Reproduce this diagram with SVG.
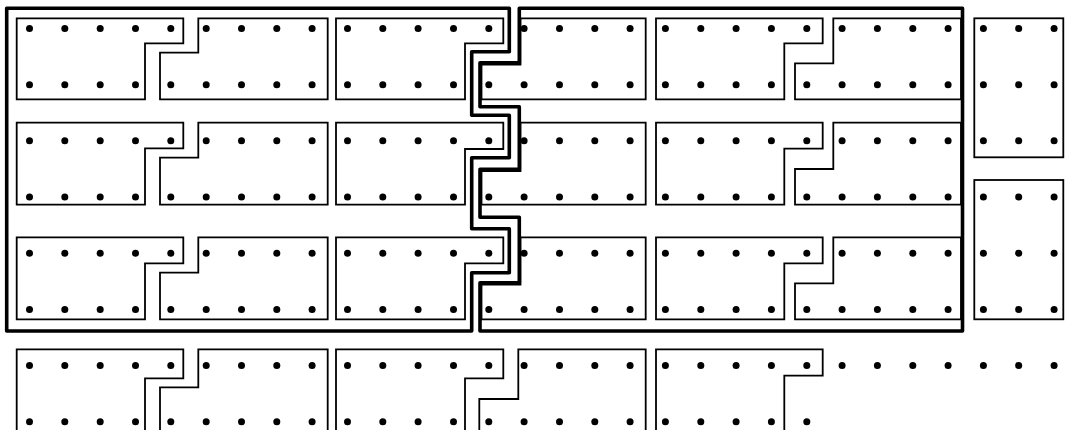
<svg xmlns="http://www.w3.org/2000/svg" xmlns:xlink="http://www.w3.org/1999/xlink" width="1065" height="430" viewBox="0 0 1065 430">
<style>
.box{fill:none;stroke:#000;stroke-width:1.8;stroke-linejoin:miter}
.frame{fill:none;stroke:#000;stroke-width:3.6;stroke-linejoin:round}
.dot{fill:#000}
</style>
<defs>
<g id="row23">
<circle class="dot" cx="29.5" cy="0" r="3.5"/><circle class="dot" cx="64.8" cy="0" r="3.5"/><circle class="dot" cx="100.2" cy="0" r="3.5"/><circle class="dot" cx="135.5" cy="0" r="3.5"/><circle class="dot" cx="170.8" cy="0" r="3.5"/><circle class="dot" cx="206.2" cy="0" r="3.5"/><circle class="dot" cx="241.5" cy="0" r="3.5"/><circle class="dot" cx="276.8" cy="0" r="3.5"/><circle class="dot" cx="312.1" cy="0" r="3.5"/><circle class="dot" cx="347.5" cy="0" r="3.5"/><circle class="dot" cx="382.8" cy="0" r="3.5"/><circle class="dot" cx="418.1" cy="0" r="3.5"/><circle class="dot" cx="453.5" cy="0" r="3.5"/><circle class="dot" cx="488.8" cy="0" r="3.5"/><circle class="dot" cx="524.1" cy="0" r="3.5"/><circle class="dot" cx="559.5" cy="0" r="3.5"/><circle class="dot" cx="594.8" cy="0" r="3.5"/><circle class="dot" cx="630.1" cy="0" r="3.5"/><circle class="dot" cx="665.4" cy="0" r="3.5"/><circle class="dot" cx="700.8" cy="0" r="3.5"/><circle class="dot" cx="736.1" cy="0" r="3.5"/><circle class="dot" cx="771.4" cy="0" r="3.5"/><circle class="dot" cx="806.8" cy="0" r="3.5"/>
</g>
<g id="row30">
<use xlink:href="#row23" href="#row23"/>
<circle class="dot" cx="842.1" cy="0" r="3.5"/><circle class="dot" cx="877.4" cy="0" r="3.5"/><circle class="dot" cx="912.8" cy="0" r="3.5"/><circle class="dot" cx="948.1" cy="0" r="3.5"/><circle class="dot" cx="983.4" cy="0" r="3.5"/><circle class="dot" cx="1018.7" cy="0" r="3.5"/><circle class="dot" cx="1054.1" cy="0" r="3.5"/>
</g>
</defs>
<rect width="1065" height="430" fill="#fff"/>
<g id="connectors">
<path class="frame" d="M6.7 8.3 H509.3 V51.7 H471.7 V115.3 H509.3 V157.7 H471.7 V228.7 H509.3 V272.7 H471.7 V331 H6.7 Z"/>
<path class="frame" d="M519.3 8.3 H962.5 V331 H480 V282.7 H519.3 V217.3 H480 V169.3 H519.3 V106.7 H480 V62.7 H519.3 Z"/>
</g>
<g id="band1">
<g id="b1-1"><path class="box" d="M16.7 18.3 H183.3 V43.3 H145 V99.3 H16.7 Z"/></g>
<g id="b1-2"><path class="box" d="M160 99.3 V52.7 H198.3 V18.3 H327.7 V99.3 Z"/></g>
<g id="b1-3"><path class="box" d="M336 18.3 H503.3 V43.3 H465 V99.3 H336 Z"/></g>
<g id="b1-4"><path class="box" d="M481.5 99.3 V64.5 H520.5 V18.3 H645.7 V99.3 Z"/></g>
<g id="b1-5"><path class="box" d="M656 18.3 H822.7 V43.3 H784.3 V99.3 H656 Z"/></g>
<g id="b1-6"><path class="box" d="M795 99.3 V63.3 H833.3 V18.3 H961 V99.3 Z"/></g>
</g>
<g id="band2">
<g id="b2-1"><path class="box" d="M16.7 122.7 H183.3 V148.3 H145 V204.7 H16.7 Z"/></g>
<g id="b2-2"><path class="box" d="M160 204.7 V157.7 H198.3 V122.7 H327.7 V204.7 Z"/></g>
<g id="b2-3"><path class="box" d="M336 122.7 H503.3 V149 H465 V204.7 H336 Z"/></g>
<g id="b2-4"><path class="box" d="M481.5 204.7 V171 H520.5 V122.7 H645.7 V204.7 Z"/></g>
<g id="b2-5"><path class="box" d="M656 122.7 H822.7 V148.7 H784.3 V204.7 H656 Z"/></g>
<g id="b2-6"><path class="box" d="M795 204.7 V169 H833.3 V122.7 H961 V204.7 Z"/></g>
</g>
<g id="band3">
<g id="b3-1"><path class="box" d="M16.7 237.3 H183.3 V263.3 H145 V319.3 H16.7 Z"/></g>
<g id="b3-2"><path class="box" d="M160 319.3 V272.7 H198.3 V237.3 H327.7 V319.3 Z"/></g>
<g id="b3-3"><path class="box" d="M336 237.3 H503.3 V263.3 H465 V319.3 H336 Z"/></g>
<g id="b3-4"><path class="box" d="M481.5 319.3 V284.5 H520.5 V237.3 H645.7 V319.3 Z"/></g>
<g id="b3-5"><path class="box" d="M656 237.3 H822.7 V263.3 H784.3 V319.3 H656 Z"/></g>
<g id="b3-6"><path class="box" d="M795 319.3 V283.3 H833.3 V237.3 H961 V319.3 Z"/></g>
</g>
<g id="band4">
<g id="b4-1"><path class="box" d="M16.7 440 V349.3 H183.3 V378.3 H145 V440"/></g>
<g id="b4-2"><path class="box" d="M160 440 V387.3 H198.3 V349.3 H327.7 V440"/></g>
<g id="b4-3"><path class="box" d="M336 440 V349.3 H503.3 V378.3 H465 V440"/></g>
<g id="b4-4"><path class="box" d="M479.3 440 V399 H518.3 V349.3 H645.7 V440"/></g>
<g id="b4-5"><path class="box" d="M656 440 V349.3 H822.7 V375.7 H784.3 V440"/></g>
</g>
<g id="column">
<g id="c1"><rect class="box" x="974.3" y="18.3" width="89" height="139"/></g>
<g id="c2"><rect class="box" x="974.3" y="180" width="89" height="139.3"/></g>
</g>
<g id="dots">
<use xlink:href="#row30" href="#row30" y="28.5"/>
<use xlink:href="#row30" href="#row30" y="84.7"/>
<use xlink:href="#row30" href="#row30" y="140.8"/>
<use xlink:href="#row30" href="#row30" y="197"/>
<use xlink:href="#row30" href="#row30" y="253.2"/>
<use xlink:href="#row30" href="#row30" y="309.4"/>
<use xlink:href="#row30" href="#row30" y="365.5"/>
<use xlink:href="#row23" href="#row23" y="421.7"/>
</g>
</svg>
